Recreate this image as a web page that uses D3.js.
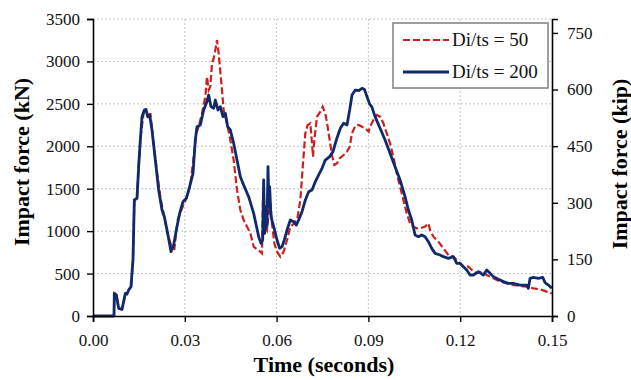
<!DOCTYPE html>
<html>
<head>
<meta charset="utf-8">
<script src="https://cdn.jsdelivr.net/npm/d3@7"></script>
<style>
  body { margin: 0; background: #fff; }
  svg { display: block; }
  svg text { font-family: "Liberation Serif", "Times New Roman", serif; }
</style>
</head>
<body>
<div id="chart"></div>
<script>
// Di/ts = 50 (red dashed)
var time50 = [0, .00686, .00697, .00763, .00839, .00948, .01002, .01057, .01111, .01166, .01242, .01307, .01351, .01438, .01492, .01547,
  .01656, .01743, .01819, .01874, .01961, .0207, .022, .02331, .0244, .02582, .02658, .02767, .02908, .03072, .03181,
  .0329, .03377, .03453, .03562, .03671, .03725, .0378, .03834, .03889, .03943, .03998, .04052, .04107, .04161, .04216, .0427,
  .04379, .04488, .04597, .04706, .04815, .04924, .05033, .05142, .0525, .05359, .05468, .05523, .05555, .0559, .05632, .05686,
  .05741, .05795, .0585, .05926, .06013, .06122, .06231, .0634, .06449, .0658, .06688, .06776, .06863, .06939, .07015, .07102,
  .07157, .0719, .07233, .0732, .07429, .07505, .07592, .07669, .07734, .0781, .07887, .07974, .08061, .08192, .08301, .08388,
  .08464, .08573, .08682, .08791, .089, .09009, .09054, .09163, .09272, .09381, .0949, .09599, .09708, .09817, .09926, .10035,
  .10144, .10253, .10362, .10471, .1058, .10688, .10852, .10961, .11015, .11124, .11287, .11451, .11614, .11778, .11941, .12104,
  .12268, .12377, .1254, .12704, .12867, .13085, .13303, .13521, .13738, .13956, .14174, .14392, .1461, .14827, .14991];
var force50 = [0, 0, 267, 247, 90, 79, 169, 267, 259, 306, 346, 660, 1367, 1387, 1760, 2074,
  2400, 2420, 2330, 2390, 2100, 1760, 1400, 1170, 960, 800, 790, 1131, 1269, 1406, 1544,
  1878, 2153, 2231, 2388, 2585, 2820, 2663, 2702, 2977, 3036, 3134, 3252, 3095, 2879, 2663, 2427,
  2271, 2074, 1838, 1485, 1249, 1131, 1053, 974, 817, 786, 758, 738, 1406, 1367, 1053, 1013,
  1210, 1328, 1092, 856, 758, 699, 758, 896, 1053, 1092, 1170, 1367, 1799, 2153, 2251, 2271,
  2035, 1878, 2074, 2349, 2408, 2467, 2388, 2231, 2074, 1897, 1779, 1799, 1858, 1897, 1937, 1995,
  2153, 2243, 2251, 2231, 2212, 2172, 2231, 2310, 2369, 2349, 2271, 2153, 2035, 1878, 1681, 1524,
  1367, 1210, 1092, 1053, 1033, 1033, 1053, 1092, 1013, 935, 876, 797, 719, 699, 640, 581,
  581, 542, 503, 522, 483, 444, 405, 385, 365, 354, 346, 326, 314, 287, 267];

// Di/ts = 200 (blue solid)
var time200 = [0, .00686, .00697, .00763, .00839, .00948, .01002, .01057, .01111, .01166, .01242, .01307, .01351, .01438, .01492, .01547,
  .01601, .01678, .01732, .01786, .01852, .01928, .02037, .02146, .02255, .02331, .0244, .02549, .02636, .02723, .02832, .02941,
  .0305, .03159, .03268, .03344, .03399, .03508, .03616, .03704, .0378, .03856, .03943, .03998, .04085, .04161, .04248, .04325,
  .04401, .04488, .04597, .04706, .04815, .04945, .05087, .0525, .05414, .0549, .05545, .05577, .0561, .05653, .05686, .05719,
  .05752, .05773, .05817, .05904, .06013, .061, .06176, .06253, .0634, .06449, .06558, .06645, .06721, .0683, .06939, .07048,
  .07157, .07266, .07375, .07484, .07592, .07734, .07843, .07952, .08083, .08192, .08301, .08388, .08464, .08573, .08682, .08791,
  .08867, .08954, .09041, .09109, .09218, .09381, .09545, .09708, .09871, .10035, .10198, .10307, .10416, .10525, .10634, .10743,
  .10852, .10961, .1107, .11179, .11342, .11451, .11614, .11778, .11887, .11996, .12104, .12213, .12322, .12431, .12595, .12758,
  .12867, .12976, .13085, .13248, .13412, .13575, .13738, .13956, .14174, .14228, .14283, .14392, .14555, .14697, .14773, .14882, .14991];
var force200 = [0, 0, 267, 247, 90, 79, 169, 267, 259, 306, 346, 660, 1367, 1387, 1760, 2074,
  2349, 2427, 2435, 2349, 2369, 2192, 1838, 1485, 1249, 1170, 974, 758, 837, 1013, 1210, 1347,
  1387, 1524, 1681, 2074, 2231, 2251, 2427, 2506, 2604, 2467, 2447, 2545, 2427, 2467, 2349, 2388,
  2231, 2192, 2035, 1838, 1642, 1524, 1406, 1210, 935, 856, 896, 1603, 974, 1288, 1053, 1760,
  1288, 1524, 1170, 1053, 896, 797, 817, 896, 1013, 1131, 1112, 1072, 1131, 1229, 1367, 1465,
  1485, 1583, 1662, 1740, 1838, 1878, 1937, 2074, 2212, 2271, 2251, 2427, 2604, 2663, 2655, 2683,
  2671, 2585, 2498, 2467, 2349, 2212, 2074, 1917, 1760, 1603, 1406, 1249, 1131, 955, 935, 955,
  935, 876, 797, 738, 719, 699, 680, 699, 621, 621, 581, 542, 483, 483, 522, 483,
  542, 503, 464, 432, 405, 385, 385, 365, 365, 326, 444, 456, 444, 456, 393, 365, 326];

var xTicks = [0, 0.03, 0.06, 0.09, 0.12, 0.15];
var kNTicks = [0, 500, 1000, 1500, 2000, 2500, 3000, 3500];
var kipTicks = [0, 150, 300, 450, 600, 750];
var seriesNames = ['Di/ts = 50', 'Di/ts = 200'];

var W = 631, H = 380;
var margin = { top: 19, right: 79, bottom: 64, left: 93 };
var red = '#CC1F1F', blue = '#0F2A6C';
var serif = '"Liberation Serif", "Times New Roman", serif';

var svg = d3.select('#chart').append('svg')
  .attr('width', W).attr('height', H);

var x = d3.scaleLinear().domain([0, 0.15]).range([margin.left, W - margin.right]);
var y = d3.scaleLinear().domain([0, 3500]).range([H - margin.bottom, margin.top]);
var yKip = d3.scaleLinear().domain([0, 3500 / 4.448]).range([H - margin.bottom, margin.top]);

// grid
svg.append('g').selectAll('line').data(kNTicks.slice(1)).join('line')
  .attr('x1', margin.left).attr('x2', W - margin.right)
  .attr('y1', function (d) { return y(d); }).attr('y2', function (d) { return y(d); })
  .attr('stroke', '#c4c4c4').attr('stroke-dasharray', '2,2');
svg.append('g').selectAll('line').data(xTicks.slice(1, -1)).join('line')
  .attr('y1', margin.top).attr('y2', H - margin.bottom)
  .attr('x1', function (d) { return x(d); }).attr('x2', function (d) { return x(d); })
  .attr('stroke', '#c4c4c4').attr('stroke-dasharray', '2,2');

// lines
var line = d3.line().x(function (d) { return x(d[0]); }).y(function (d) { return y(d[1]); });
var data50 = time50.map(function (t, i) { return [t, force50[i]]; });
var data200 = time200.map(function (t, i) { return [t, force200[i]]; });

svg.append('path').datum(data50).attr('d', line)
  .attr('fill', 'none').attr('stroke', red).attr('stroke-width', 2.2)
  .attr('stroke-dasharray', '7,3');
svg.append('path').datum(data200).attr('d', line)
  .attr('fill', 'none').attr('stroke', blue).attr('stroke-width', 2.8)
  .attr('stroke-linejoin', 'round');

// axes
function styleAxis(g) {
  g.attr('font-family', serif);
  g.selectAll('.domain').attr('stroke', '#000').attr('stroke-width', 1.6);
  g.selectAll('.tick line').attr('stroke', '#000').attr('stroke-width', 1.4);
  g.selectAll('text').attr('font-size', 17).attr('fill', '#111')
    .style('font-family', serif);
}
svg.append('g').attr('transform', 'translate(0,' + (H - margin.bottom) + ')')
  .call(d3.axisBottom(x).tickValues(xTicks).tickFormat(d3.format('.2f')).tickSizeOuter(0).tickSize(6).tickPadding(12))
  .call(styleAxis);
svg.append('g').attr('transform', 'translate(' + margin.left + ',0)')
  .call(d3.axisLeft(y).tickValues(kNTicks).tickFormat(d3.format('d')).tickSizeOuter(0).tickSize(6).tickPadding(7))
  .call(styleAxis);
svg.append('g').attr('transform', 'translate(' + (W - margin.right) + ',0)')
  .call(d3.axisRight(yKip).tickValues(kipTicks).tickFormat(d3.format('d')).tickSizeOuter(0).tickSize(6).tickPadding(9))
  .call(styleAxis);

// titles
svg.append('text').attr('x', 324).attr('y', 372).attr('text-anchor', 'middle')
  .attr('font-size', 22).attr('font-weight', 'bold').text('Time (seconds)');
svg.append('text').attr('transform', 'translate(29,162) rotate(-90)').attr('text-anchor', 'middle')
  .attr('font-size', 22).attr('font-weight', 'bold').text('Impact force (kN)');
svg.append('text').attr('transform', 'translate(627,164) rotate(-90)').attr('text-anchor', 'middle')
  .attr('font-size', 22).attr('font-weight', 'bold').text('Impact force (kip)');

// legend
var lg = svg.append('g').attr('transform', 'translate(393,23)');
lg.append('rect').attr('width', 155).attr('height', 65)
  .attr('fill', '#fff').attr('stroke', '#808080').attr('stroke-width', 1.5);
var legendRows = [
  { name: seriesNames[0], color: red, dash: '7,3', w: 2.2 },
  { name: seriesNames[1], color: blue, dash: null, w: 2.8 }
];
legendRows.forEach(function (r, i) {
  var yy = 17 + i * 32;
  lg.append('line').attr('x1', 10).attr('x2', 56).attr('y1', yy).attr('y2', yy)
    .attr('stroke', r.color).attr('stroke-width', r.w).attr('stroke-dasharray', r.dash);
  lg.append('text').attr('x', 59).attr('y', yy + 6).attr('font-size', 19).attr('fill', '#111').text(r.name);
});
</script>
</body>
</html>
